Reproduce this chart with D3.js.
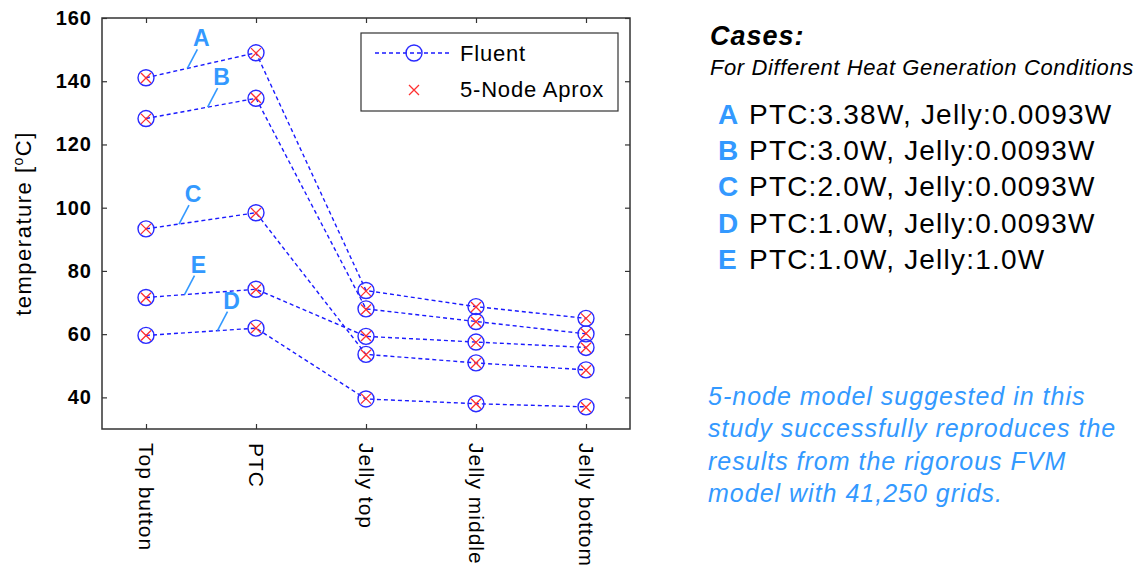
<!DOCTYPE html>
<html>
<head>
    <meta charset="utf-8">
    <style>
        body { margin: 0; background: #fff; }
        svg { display: block; font-family: "Liberation Sans", Arial, Helvetica, sans-serif; }
        .frame { fill: none; stroke: #333; stroke-width: 1.5px; }
        .tick line { stroke: #333; stroke-width: 1.2px; }
        .fluent { fill: none; stroke: #1a1aff; stroke-width: 1.4px; stroke-dasharray: 4,3; }
        .ring { fill: none; stroke: #2a2aff; stroke-width: 1.4px; }
        .cross { stroke: #ff3030; stroke-width: 1.3px; }
        .lab { fill: #3399ff; font-weight: bold; }
        .leader { stroke: #3399ff; stroke-width: 1.6px; }
    </style>
</head>
<body>
    <div id="container"></div>
    <script src="https://d3js.org/d3.v7.min.js"></script>
    <script>
        // locations along the cell
        const locations = ["Top button", "PTC", "Jelly top", "Jelly middle", "Jelly bottom"];

        // Fluent results per case [degC]
        const fluentA = [141.1, 149.0, 73.8, 68.7, 65.0];
        const fluentB = [128.2, 134.6, 68.0, 64.0, 60.1];
        const fluentC = [93.3, 98.4, 53.6, 50.9, 48.7];
        const fluentD = [59.6, 61.9, 39.5, 38.0, 37.0];
        const fluentE = [71.6, 74.2, 59.3, 57.5, 55.8];

        // 5-node approximation per case [degC]
        const nodeA = [141.0, 148.9, 73.6, 68.6, 65.0];
        const nodeB = [128.1, 134.7, 67.8, 63.9, 60.2];
        const nodeC = [93.3, 98.3, 53.5, 50.9, 48.6];
        const nodeD = [59.6, 61.9, 39.6, 38.0, 36.9];
        const nodeE = [71.5, 74.1, 59.4, 57.4, 55.7];

        const caseNames = ["A", "B", "C", "D", "E"];
        const caseText = ["PTC:3.38W, Jelly:0.0093W", "PTC:3.0W, Jelly:0.0093W",
            "PTC:2.0W, Jelly:0.0093W", "PTC:1.0W, Jelly:0.0093W", "PTC:1.0W, Jelly:1.0W"];

        const yTicks = [40, 60, 80, 100, 120, 140, 160];
        const note = ["5-node model suggested in this", "study successfully reproduces the",
            "results from the rigorous FVM", "model with 41,250 grids."];

        const fluent = [fluentA, fluentB, fluentC, fluentD, fluentE];
        const approx = [nodeA, nodeB, nodeC, nodeD, nodeE];

        // where the case letter sits: fraction along first segment
        const labelAt = { A: 0.376, B: 0.56, C: 0.30, D: 0.65, E: 0.35 };

        const width = 1140, height = 569;
        const pLeft = 102, pRight = 630, pTop = 18, pBottom = 429;

        const svg = d3.select("#container").append("svg")
            .attr("width", width)
            .attr("height", height);

        const x = d3.scalePoint().domain(locations).range([pLeft, pRight]).padding(0.4);
        const y = d3.scaleLinear().domain([30, 160]).range([pBottom, pTop]);

        // axes, ticks pointing inwards
        const gl = svg.append("g").attr("transform", `translate(${pLeft},0)`)
            .call(d3.axisLeft(y).tickValues(yTicks).tickSizeInner(-5).tickSizeOuter(0).tickPadding(10));
        gl.selectAll("text")
            .attr("fill", "#000")
            .style("font-size", "20px")
            .style("font-weight", "bold")
            .style("letter-spacing", "1px");
        svg.append("g").attr("transform", `translate(${pRight},0)`)
            .call(d3.axisRight(y).tickValues(yTicks).tickSizeInner(-5).tickSizeOuter(0).tickFormat(""));
        svg.append("g").attr("transform", `translate(0,${pTop})`)
            .call(d3.axisTop(x).tickSizeInner(-5).tickSizeOuter(0).tickFormat(""));
        const gb = svg.append("g").attr("transform", `translate(0,${pBottom})`)
            .call(d3.axisBottom(x).tickSizeInner(-5).tickSizeOuter(0));
        gb.selectAll("text")
            .attr("fill", "#000")
            .attr("x", 0).attr("y", 0)
            .attr("dy", "0.35em")
            .attr("text-anchor", "start")
            .attr("transform", "translate(0,14) rotate(90)")
            .style("font-size", "21px")
            .style("letter-spacing", "1px");
        svg.selectAll(".domain").remove();

        svg.append("rect").attr("class", "frame")
            .attr("x", pLeft).attr("y", pTop)
            .attr("width", pRight - pLeft).attr("height", pBottom - pTop);

        // y axis title
        const yt = svg.append("text")
            .attr("transform", `translate(31,${(pTop + pBottom) / 2}) rotate(-90)`)
            .attr("text-anchor", "middle")
            .style("font-size", "22px")
            .style("letter-spacing", "1.5px");
        yt.append("tspan").text("temperature [");
        yt.append("tspan").attr("dy", "-8").style("font-size", "14px").text("o");
        yt.append("tspan").attr("dy", "8").text("C]");

        // fluent lines
        const line = d3.line().x((d, i) => x(locations[i])).y(d => y(d));
        svg.append("g").selectAll("path")
            .data(fluent)
            .join("path")
            .attr("class", "fluent")
            .attr("d", line);

        // case letter leaders
        const lab = svg.append("g");
        caseNames.forEach((c, k) => {
            const t = labelAt[c];
            const s = fluent[k];
            const ax = x(locations[0]) + t * (x(locations[1]) - x(locations[0]));
            const ay = y(s[0]) + t * (y(s[1]) - y(s[0]));
            lab.append("line").attr("class", "leader")
                .attr("x1", ax).attr("y1", ay)
                .attr("x2", ax + 10).attr("y2", ay - 19);
            lab.append("text").attr("class", "lab")
                .attr("x", ax + 14).attr("y", ay - 22)
                .attr("text-anchor", "middle")
                .style("font-size", "23px")
                .text(c);
        });

        // markers
        const pts = [];
        fluent.forEach(s => s.forEach((v, i) => pts.push({ loc: locations[i], v: v })));
        const apts = [];
        approx.forEach(s => s.forEach((v, i) => apts.push({ loc: locations[i], v: v })));

        svg.append("g").selectAll("circle")
            .data(pts)
            .join("circle")
            .attr("class", "ring")
            .attr("cx", d => x(d.loc))
            .attr("cy", d => y(d.v))
            .attr("r", 8);

        svg.append("g").selectAll("circle")
            .data(pts)
            .join("circle")
            .attr("fill", "#1a1aff")
            .attr("cx", d => x(d.loc))
            .attr("cy", d => y(d.v))
            .attr("r", 1);

        svg.append("g").selectAll("path")
            .data(apts)
            .join("path")
            .attr("class", "cross")
            .attr("d", d => {
                const cx = x(d.loc), cy = y(d.v), h = 5;
                return `M${cx - h},${cy - h}L${cx + h},${cy + h}M${cx - h},${cy + h}L${cx + h},${cy - h}`;
            });

        // legend
        const lg = svg.append("g").attr("transform", "translate(361,33)");
        lg.append("rect").attr("width", 257).attr("height", 78)
            .attr("fill", "#fff").attr("stroke", "#333").attr("stroke-width", 1.2);
        lg.append("line").attr("class", "fluent").attr("x1", 14).attr("x2", 88).attr("y1", 20).attr("y2", 20);
        lg.append("circle").attr("class", "ring").attr("cx", 53).attr("cy", 20).attr("r", 8);
        lg.append("path").attr("class", "cross").attr("d", "M48,52L58,62M48,62L58,52");
        lg.append("text").attr("x", 99).attr("y", 28).style("font-size", "22px")
            .style("letter-spacing", "0.8px").text("Fluent");
        lg.append("text").attr("x", 99).attr("y", 64).style("font-size", "22px")
            .style("letter-spacing", "0.8px").text("5-Node Aprox");

        // cases panel
        svg.append("text").attr("x", 710).attr("y", 45)
            .style("font-size", "27px").style("font-weight", "bold").style("font-style", "italic")
            .style("letter-spacing", "1px")
            .text("Cases:");
        svg.append("text").attr("x", 710).attr("y", 75)
            .style("font-size", "22px").style("font-style", "italic")
            .style("letter-spacing", "0.6px")
            .text("For Different Heat Generation Conditions");

        const rows = svg.append("g").selectAll("g")
            .data(caseNames)
            .join("g")
            .attr("transform", (d, i) => `translate(718,${124 + i * 36.2})`);
        rows.append("text").attr("class", "lab")
            .style("font-size", "28px")
            .text(d => d);
        rows.append("text").attr("x", 31)
            .style("font-size", "28px")
            .style("letter-spacing", "1.2px")
            .text((d, i) => caseText[i]);

        svg.append("g").selectAll("text")
            .data(note)
            .join("text")
            .attr("x", 708)
            .attr("y", (d, i) => 405 + i * 32.3)
            .attr("fill", "#3399ff")
            .style("font-size", "25px")
            .style("font-style", "italic")
            .style("letter-spacing", "1px")
            .text(d => d);
    </script>
</body>
</html>
